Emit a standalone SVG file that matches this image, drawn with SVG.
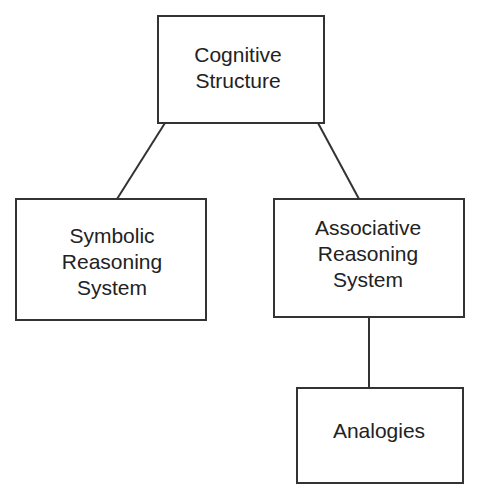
<svg xmlns="http://www.w3.org/2000/svg" width="480" height="500" viewBox="0 0 480 500">
<style>
.box{fill:#fff;stroke:#333;stroke-width:2}
.lbl{font-family:"Liberation Sans",Arial,sans-serif;font-size:21px;fill:#222;text-anchor:middle}
.con{stroke:#333;stroke-width:2;fill:none}
</style>
<rect width="480" height="500" fill="#fff"/>
<g id="connectors">
<line class="con" x1="165" y1="123" x2="117" y2="199"/>
<line class="con" x1="318" y1="123" x2="359" y2="199"/>
<line class="con" x1="369" y1="317" x2="369" y2="388"/>
</g>
<g id="cognitive">
<rect class="box" x="158" y="16" width="166" height="107"/>
<text class="lbl" x="238" y="62">Cognitive</text>
<text class="lbl" x="238" y="88">Structure</text>
</g>
<g id="symbolic">
<rect class="box" x="16" y="199" width="190" height="121"/>
<text class="lbl" x="112" y="243">Symbolic</text>
<text class="lbl" x="112" y="269">Reasoning</text>
<text class="lbl" x="112" y="295">System</text>
</g>
<g id="associative">
<rect class="box" x="274" y="199" width="190" height="118"/>
<text class="lbl" x="368" y="235">Associative</text>
<text class="lbl" x="368" y="261">Reasoning</text>
<text class="lbl" x="368" y="287">System</text>
</g>
<g id="analogies">
<rect class="box" x="297" y="388" width="166" height="95"/>
<text class="lbl" x="379" y="438">Analogies</text>
</g>
</svg>
